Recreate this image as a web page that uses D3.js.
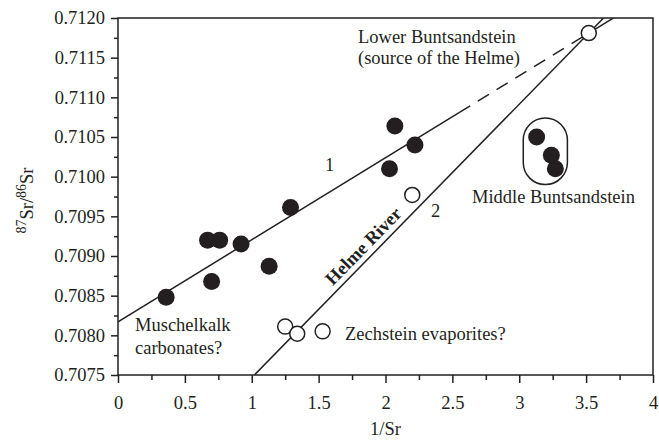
<!DOCTYPE html>
<html>
<head>
<meta charset="utf-8">
<script src="https://cdn.jsdelivr.net/npm/d3@7"></script>
<style>
    body { margin: 0; background: #fff; }
    svg { display: block; }
    text { font-family: "Liberation Serif", "Times New Roman", serif; fill: #231f20; }
</style>
</head>
<body>
<svg id="chart" width="659" height="441"></svg>
<script>
// Sr isotope data, [1/Sr, 87Sr/86Sr]
const filledPoints = [
    [0.36, 0.70848], [0.67, 0.7092], [0.76, 0.7092], [0.92, 0.70915],
    [0.7, 0.70868], [1.13, 0.70887], [1.29, 0.70961],
    [2.03, 0.7101], [2.07, 0.71064], [2.22, 0.7104]
];
const middleBuntPoints = [[3.13, 0.7105], [3.24, 0.71027], [3.27, 0.7101]];
const openPoints = [[1.25, 0.70811], [1.34, 0.70802], [1.53, 0.70805], [2.2, 0.70977], [3.52, 0.71181]];

// mixing lines (end points)
const line1 = [[0, 0.70817], [3.52, 0.71181]];
const line1SolidEnd = 2.55;
const line2 = [[1.02, 0.7075], [3.52, 0.71181]];

const xTicks = [0, 0.5, 1, 1.5, 2, 2.5, 3, 3.5, 4];
const xMinorTicks = [0.25, 0.75, 1.25, 1.75, 2.25, 2.75, 3.25, 3.75];
const yTicks = [0.7075, 0.708, 0.7085, 0.709, 0.7095, 0.71, 0.7105, 0.711, 0.7115, 0.712];
const yMinorTicks = [0.70775, 0.70825, 0.70875, 0.70925, 0.70975, 0.71025, 0.71075, 0.71125, 0.71175];

const svg = d3.select("#chart");
const margins = { left: 118, right: 6, top: 18, bottom: 66 };
const width = 659, height = 441;
const ink = "#231f20";
const fontSize = 18.5;

const xScale = d3.scaleLinear().domain([0, 4]).range([margins.left, width - margins.right]);
const yScale = d3.scaleLinear().domain([0.7075, 0.712]).range([height - margins.bottom, margins.top]);

svg.append("defs").append("clipPath").attr("id", "plotClip")
    .append("rect")
    .attr("x", margins.left).attr("y", margins.top)
    .attr("width", width - margins.left - margins.right)
    .attr("height", height - margins.top - margins.bottom);

// frame
svg.append("rect")
    .attr("x", margins.left).attr("y", margins.top)
    .attr("width", width - margins.left - margins.right)
    .attr("height", height - margins.top - margins.bottom)
    .attr("fill", "none").attr("stroke", ink).attr("stroke-width", 1.5);

const styleAxis = (g) => {
    g.select(".domain").remove();
    g.selectAll("line").attr("stroke", ink).attr("stroke-width", 1.5);
    g.selectAll("text").attr("font-size", fontSize).attr("fill", ink)
        .attr("font-family", "Liberation Serif, serif");
};

svg.append("g")
    .attr("transform", `translate(0,${height - margins.bottom})`)
    .call(d3.axisBottom(xScale).tickValues(xTicks).tickSize(8).tickPadding(13).tickFormat((d) => String(d)))
    .call(styleAxis);
svg.append("g")
    .attr("transform", `translate(0,${height - margins.bottom})`)
    .call(d3.axisBottom(xScale).tickValues(xMinorTicks).tickSize(5).tickFormat(""))
    .call(styleAxis);

svg.append("g")
    .attr("transform", `translate(${margins.left},0)`)
    .call(d3.axisLeft(yScale).tickValues(yTicks).tickSize(7).tickPadding(6).tickFormat(d3.format(".4f")))
    .call(styleAxis);
svg.append("g")
    .attr("transform", `translate(${margins.left},0)`)
    .call(d3.axisLeft(yScale).tickValues(yMinorTicks).tickSize(4).tickFormat(""))
    .call(styleAxis);

// axis titles
svg.append("text")
    .attr("x", xScale(2)).attr("y", 435)
    .attr("text-anchor", "middle").attr("font-size", fontSize)
    .text("1/Sr");

const yTitle = svg.append("text")
    .attr("transform", `translate(33,${(margins.top + height - margins.bottom) / 2 + 4}) rotate(-90)`)
    .attr("text-anchor", "middle").attr("font-size", fontSize);
yTitle.append("tspan").attr("font-size", 14).attr("dy", -7).text("87");
yTitle.append("tspan").attr("dy", 7).text("Sr/");
yTitle.append("tspan").attr("font-size", 14).attr("dy", -7).text("86");
yTitle.append("tspan").attr("dy", 7).text("Sr");

// lines
const plot = svg.append("g").attr("clip-path", "url(#plotClip)");
const pointOnLine = (l, xv) => {
    const [[x1, y1], [x2, y2]] = l;
    return [xv, y1 + ((y2 - y1) * (xv - x1)) / (x2 - x1)];
};
const line = d3.line().x((d) => xScale(d[0])).y((d) => yScale(d[1]));

plot.append("path")
    .attr("d", line([line1[0], pointOnLine(line1, line1SolidEnd)]))
    .attr("fill", "none").attr("stroke", ink).attr("stroke-width", 1.5);
plot.append("path")
    .attr("d", line([pointOnLine(line1, line1SolidEnd), line1[1]]))
    .attr("fill", "none").attr("stroke", ink).attr("stroke-width", 1.5)
    .attr("stroke-dasharray", "13,9");
plot.append("path")
    .attr("d", line([line1[1], pointOnLine(line1, 4)]))
    .attr("fill", "none").attr("stroke", ink).attr("stroke-width", 1.5);
plot.append("path")
    .attr("d", line([line2[0], pointOnLine(line2, 4)]))
    .attr("fill", "none").attr("stroke", ink).attr("stroke-width", 1.5);

// Middle Buntsandstein enclosure
const box = { x0: 3.03, x1: 3.36, y0: 0.7099, y1: 0.71074 };
const boxW = xScale(box.x1) - xScale(box.x0);
plot.append("rect")
    .attr("x", xScale(box.x0)).attr("y", yScale(box.y1))
    .attr("width", boxW).attr("height", yScale(box.y0) - yScale(box.y1))
    .attr("rx", boxW / 2).attr("ry", boxW / 2)
    .attr("fill", "none").attr("stroke", ink).attr("stroke-width", 1.5);

// points
plot.selectAll(".filled")
    .data(filledPoints.concat(middleBuntPoints))
    .enter()
    .append("circle")
    .attr("class", "filled")
    .attr("cx", (d) => xScale(d[0])).attr("cy", (d) => yScale(d[1]))
    .attr("r", 8.5).attr("fill", ink);

plot.selectAll(".open")
    .data(openPoints)
    .enter()
    .append("circle")
    .attr("class", "open")
    .attr("cx", (d) => xScale(d[0])).attr("cy", (d) => yScale(d[1]))
    .attr("r", 7.5).attr("fill", "#fff").attr("stroke", ink).attr("stroke-width", 1.5);

// annotations
const labels = [
    { x: 358, y: 43, text: "Lower Buntsandstein" },
    { x: 358, y: 64, text: "(source of the Helme)" },
    { x: 472, y: 203, text: "Middle Buntsandstein" },
    { x: 135, y: 331, text: "Muschelkalk" },
    { x: 135, y: 354, text: "carbonates?" },
    { x: 345, y: 340, text: "Zechstein evaporites?" },
    { x: 325, y: 171, text: "1" },
    { x: 431, y: 217, text: "2" }
];
svg.selectAll(".note")
    .data(labels)
    .enter()
    .append("text")
    .attr("class", "note")
    .attr("x", (d) => d.x).attr("y", (d) => d.y)
    .attr("font-size", fontSize)
    .text((d) => d.text);

// river label along line 2
const p1 = line2[0], p2 = line2[1];
const angle = (Math.atan2(yScale(p2[1]) - yScale(p1[1]), xScale(p2[0]) - xScale(p1[0])) * 180) / Math.PI;
const mid = pointOnLine(line2, 1.9);
svg.append("text")
    .attr("transform", `translate(${xScale(mid[0])},${yScale(mid[1])}) rotate(${angle}) translate(0,-6)`)
    .attr("text-anchor", "middle")
    .attr("font-size", fontSize)
    .attr("font-weight", "bold")
    .text("Helme River");
</script>
</body>
</html>
